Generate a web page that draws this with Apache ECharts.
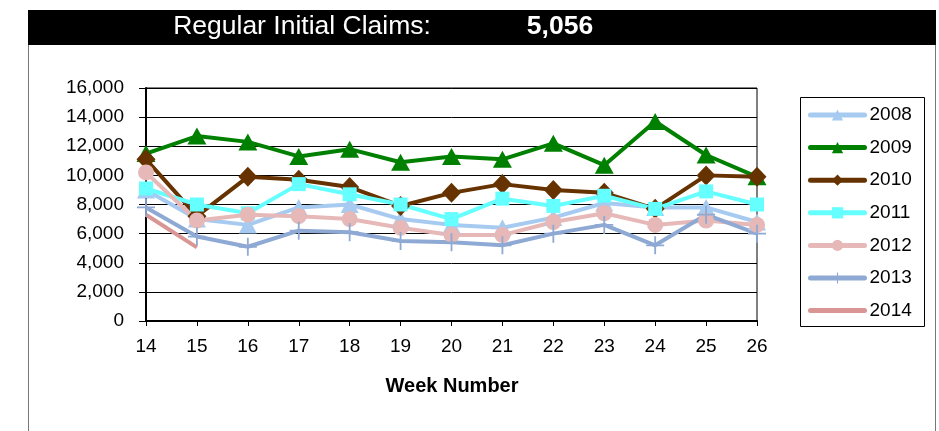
<!DOCTYPE html>
<html><head><meta charset="utf-8">
<script src="https://cdn.jsdelivr.net/npm/echarts@6/dist/echarts.min.js"></script>
<style>html,body{margin:0;padding:0;background:#fff}#c{width:939px;height:431px}</style>
</head><body><div id="c"></div>
<script>
var weeks = ['14','15','16','17','18','19','20','21','22','23','24','25','26'];
var y2008 = [9000, 7000, 6600, 7800, 8000, 7000, 6600, 6400, 7100, 8100, 7800, 7800, 6800];
var y2009 = [11500, 12700, 12300, 11300, 11800, 10900, 11300, 11100, 12200, 10700, 13700, 11400, 9900];
var y2010 = [11100, 7200, 9900, 9700, 9200, 7900, 8800, 9400, 9000, 8800, 7700, 10000, 9900];
var y2011 = [9100, 8000, 7400, 9400, 8700, 8000, 7000, 8400, 7900, 8600, 7700, 8900, 8000];
var y2012 = [10200, 6900, 7300, 7200, 7000, 6400, 5900, 5900, 6800, 7400, 6600, 6900, 6600];
var y2013 = [7800, 5800, 5100, 6200, 6100, 5500, 5400, 5200, 6000, 6600, 5200, 7300, 6000];
var y2014 = [7300, 5056];
var titleLabel = 'Regular Initial Claims:';
var titleValue = '5,056';
var xName = 'Week Number';

var FONT = '"Liberation Sans", Arial, sans-serif';
var plus = 'path://M-1,-10L1,-10L1,-1L10,-1L10,1L1,1L1,10L-1,10L-1,1L-10,1L-10,-1L-1,-1Z';

function mk(name, data, color, symbol, size) {
  return {
    name: name, type: 'line', data: data,
    symbol: symbol, symbolSize: size, showSymbol: symbol !== 'none',
    lineStyle: { color: color, width: 4 },
    itemStyle: { color: color, borderWidth: 0 },
    emphasis: { disabled: true },
    animation: false
  };
}

var chart = echarts.init(document.getElementById('c'), null, { renderer: 'canvas' });
chart.setOption({
  animation: false,
  textStyle: { fontFamily: FONT },
  graphic: [
    { type: 'rect', shape: { x: 28.5, y: 10.5, width: 907, height: 440 }, style: { fill: 'none', stroke: '#777', lineWidth: 1 }, z: 0 },
    { type: 'rect', shape: { x: 28, y: 10, width: 908, height: 35 }, style: { fill: '#000' }, z: 1 },
    { type: 'rect', shape: { x: 800.5, y: 97.5, width: 124, height: 229 }, style: { fill: 'none', stroke: '#000', lineWidth: 1 }, z: 1 },
    { type: 'text', x: 302, y: 27, style: { text: titleLabel, fill: '#fff', font: '26.5px ' + FONT, textAlign: 'center', textVerticalAlign: 'middle' }, z: 2 },
    { type: 'text', x: 560, y: 27, style: { text: titleValue, fill: '#fff', font: 'bold 26.5px ' + FONT, textAlign: 'center', textVerticalAlign: 'middle' }, z: 2 },
    { type: 'text', x: 452, y: 386, style: { text: xName, fill: '#000', font: 'bold 20px ' + FONT, textAlign: 'center', textVerticalAlign: 'middle' }, z: 2 }
  ],
  grid: { left: 146, right: 182, top: 88, bottom: 110, show: true, borderColor: '#000', borderWidth: 1, backgroundColor: 'transparent' },
  legend: {
    orient: 'vertical', left: 800, top: 97,
    itemWidth: 54, itemHeight: 14, itemGap: 13.6,
    padding: [8.5, 1, 5, 8],
    borderWidth: 0,
    lineStyle: { width: 5, cap: 'round' },
    textStyle: { fontSize: 19, color: '#000', fontFamily: FONT },
    data: ['2008','2009','2010','2011','2012','2013', { name: '2014', itemStyle: { opacity: 0 } }]
  },
  xAxis: {
    type: 'category', data: weeks, boundaryGap: false,
    axisLine: { lineStyle: { color: '#000', width: 2 } },
    axisTick: { show: true, length: 5, lineStyle: { color: '#000' }, alignWithLabel: true },
    axisLabel: { fontSize: 19, color: '#000', margin: 16, fontFamily: FONT },
    splitLine: { show: false }
  },
  yAxis: {
    type: 'value', min: 0, max: 16000, interval: 2000,
    axisLine: { show: true, lineStyle: { color: '#000', width: 2 } },
    axisTick: { show: true, length: 7, lineStyle: { color: '#000' } },
    axisLabel: { fontSize: 19, color: '#000', margin: 22, fontFamily: FONT,
      formatter: function (v) { return v.toLocaleString('en-US'); } },
    splitLine: { show: true, lineStyle: { color: '#000', width: 1 } }
  },
  series: [
    mk('2008', y2008, '#A6CAF0', 'triangle', [18, 17]),
    mk('2009', y2009, '#008000', 'triangle', [19, 17]),
    mk('2010', y2010, '#663300', 'diamond', [19, 20]),
    mk('2011', y2011, '#66FFFF', 'rect', 14),
    mk('2012', y2012, '#E6B9B8', 'circle', 16),
    mk('2013', y2013, '#8EA9D3', plus, 18),
    mk('2014', y2014, '#D99694', 'none', 0)
  ]
});
</script>
</body></html>
